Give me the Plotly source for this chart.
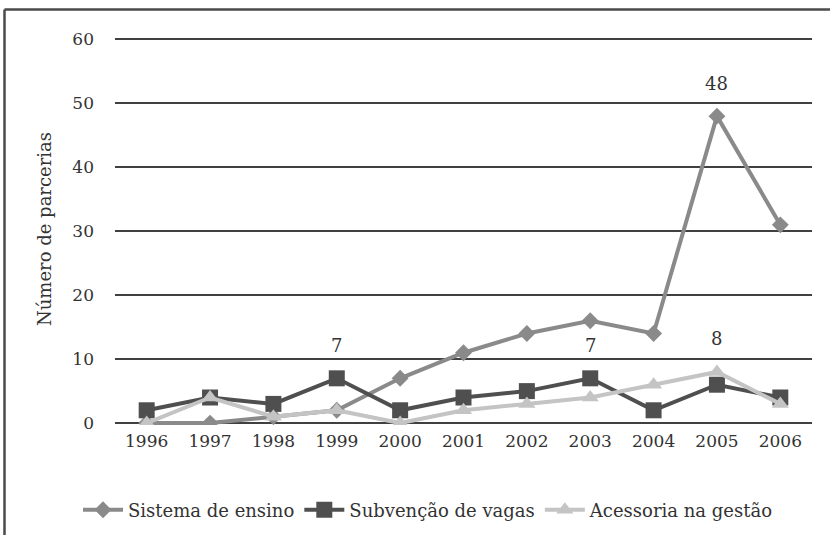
import plotly.graph_objects as go

years = [1996, 1997, 1998, 1999, 2000, 2001, 2002, 2003, 2004, 2005, 2006]
sistema = [0, 0, 1, 2, 7, 11, 14, 16, 14, 48, 31]
subvencao = [2, 4, 3, 7, 2, 4, 5, 7, 2, 6, 4]
acessoria = [0, 4, 1, 2, 0, 2, 3, 4, 6, 8, 3]
series_names = ["Sistema de ensino", "Subvenção de vagas", "Acessoria na gestão"]
y_ticks = [0, 10, 20, 30, 40, 50, 60]
# labelled points: (series, year)
labels = [("subvencao", 1999), ("subvencao", 2003), ("acessoria", 2005), ("sistema", 2005)]

FONT = "DejaVu Serif"
TXT = "#333333"

data_map = {"sistema": sistema, "subvencao": subvencao, "acessoria": acessoria}

W, H = 830, 535
ML, MR = 115, 18
MT, MB = 32.6, 110.08
PW = W - ML - MR
PH = H - MT - MB

fig = go.Figure()
fig.add_trace(go.Scatter(x=years, y=sistema, name=series_names[0], mode="lines+markers",
                         line=dict(color="#8a8a8a", width=4),
                         marker=dict(symbol="diamond", size=13, color="#8a8a8a")))
fig.add_trace(go.Scatter(x=years, y=subvencao, name=series_names[1], mode="lines+markers",
                         line=dict(color="#4f4f4f", width=4),
                         marker=dict(symbol="square", size=16, color="#4f4f4f")))
fig.add_trace(go.Scatter(x=years, y=acessoria, name=series_names[2], mode="lines+markers",
                         line=dict(color="#c4c4c4", width=4),
                         marker=dict(symbol="triangle-up", size=15, color="#c4c4c4")))

for key, yr in labels:
    val = data_map[key][years.index(yr)]
    fig.add_annotation(x=yr, y=val, text=str(val), showarrow=False, yshift=33,
                       font=dict(family=FONT, size=18, color=TXT))

# outer border (top and left edges visible)
bx = (4.5 - ML) / PW
by = (H - MB - 9) / PH
fig.add_shape(type="line", xref="paper", yref="paper", x0=bx, x1=1.1, y0=by, y1=by,
              line=dict(color="#4a4a4a", width=2.5))
fig.add_shape(type="line", xref="paper", yref="paper", x0=bx, x1=bx, y0=by, y1=-0.4,
              line=dict(color="#4a4a4a", width=2.5))

fig.update_layout(
    width=W, height=H,
    margin=dict(l=ML, r=MR, t=MT, b=MB, autoexpand=False),
    paper_bgcolor="white", plot_bgcolor="white",
    font=dict(family=FONT, size=18, color=TXT),
    showlegend=True,
    legend=dict(orientation="h", x=(428 - ML) / PW, xanchor="center", y=-(510 - (H - MB)) / PH, yanchor="middle",
                font=dict(family=FONT, size=18, color=TXT), itemwidth=40,
                tracegroupgap=0),
    xaxis=dict(range=[1995.5, 2006.5], tickvals=years, ticktext=[str(y) for y in years],
               showgrid=False, showline=False, ticks="", automargin=False, ticklabelstandoff=4,
               tickfont=dict(family=FONT, size=17, color=TXT), zeroline=False),
    yaxis=dict(range=[-0.3, 61], tickvals=y_ticks, showgrid=True, gridcolor="#404040", gridwidth=1.5,
               zeroline=False, showline=False, ticks="", ticklabelstandoff=20, automargin=False,
               tickfont=dict(family=FONT, size=17, color=TXT),
               title=dict(text="Número de parcerias", font=dict(family=FONT, size=18, color=TXT), standoff=16)),
)

fig.write_html("out.html", config={"displayModeBar": False},
               post_script="document.body.style.margin='0';document.body.style.overflow='hidden';")
